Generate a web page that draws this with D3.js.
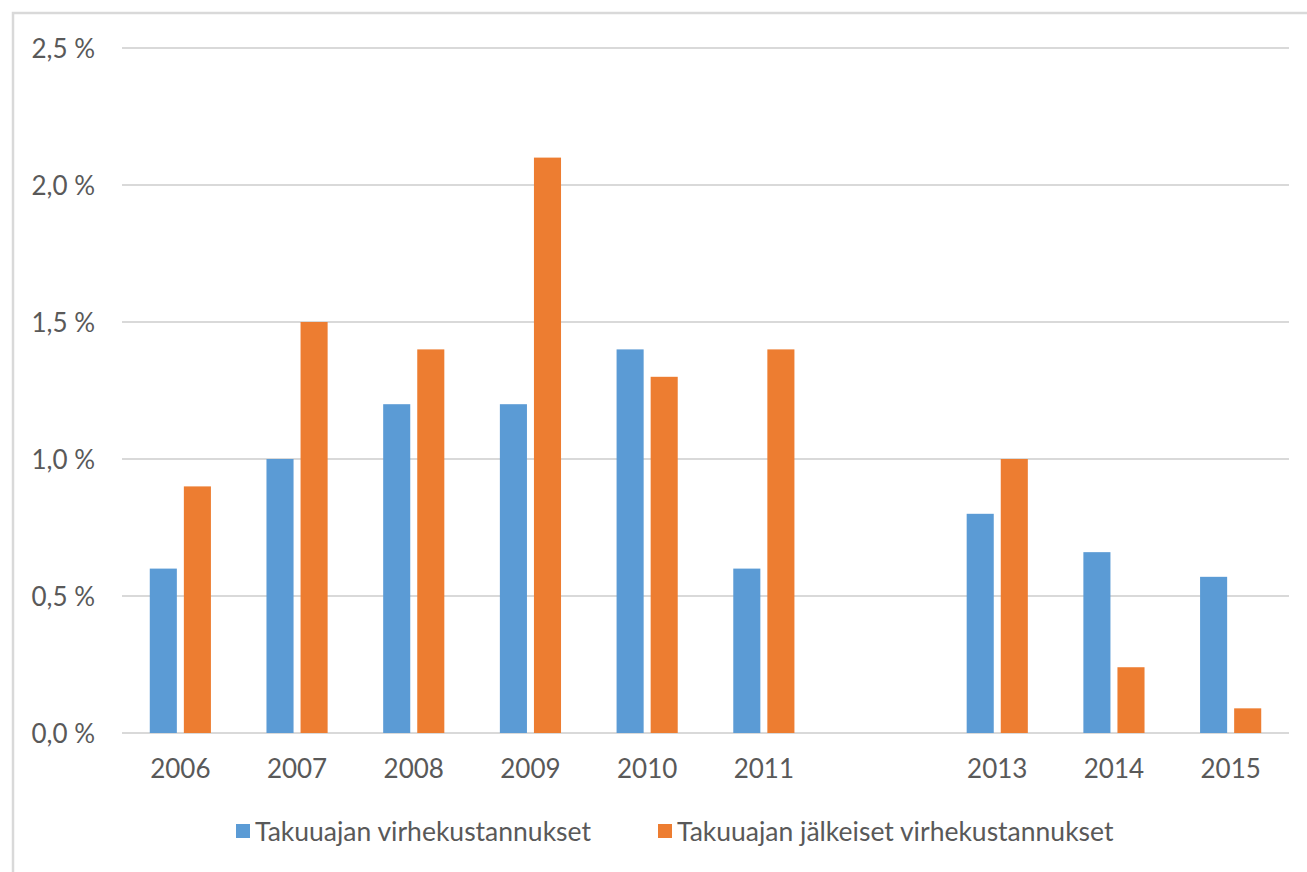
<!DOCTYPE html>
<html>
<head>
<meta charset="utf-8">
<script src="https://cdn.jsdelivr.net/npm/d3@7"></script>
<style>
  html, body { margin: 0; padding: 0; background: #fff; }
  svg { display: block; }
  text { font-family: Lato, "Open Sans", "Liberation Sans", sans-serif; fill: #595959; }
</style>
</head>
<body>
<svg id="chart" width="1307" height="872"></svg>
<script>
// ---- data ----
const categories = ["2006", "2007", "2008", "2009", "2010", "2011", "", "2013", "2014", "2015"];
const seriesNames = ["Takuuajan virhekustannukset", "Takuuajan jälkeiset virhekustannukset"];
const warrantyCosts = [0.6, 1.0, 1.2, 1.2, 1.4, 0.6, null, 0.8, 0.66, 0.57];
const postWarrantyCosts = [0.9, 1.5, 1.4, 2.1, 1.3, 1.4, null, 1.0, 0.24, 0.09];
const yTicks = [0, 0.5, 1.0, 1.5, 2.0, 2.5];
const colors = ["#5B9BD5", "#ED7D31"];

// ---- layout ----
const W = 1307, H = 872;
const plot = { left: 122, right: 1289, top: 48, bottom: 733 };
const svg = d3.select("#chart");

// chart frame (extends past the visible area on right/bottom)
svg.append("rect")
  .attr("x", 13).attr("y", 13)
  .attr("width", W).attr("height", H)
  .attr("fill", "none").attr("stroke", "#D9D9D9").attr("stroke-width", 2.5);

const x = d3.scaleBand().domain(d3.range(categories.length))
  .range([plot.left, plot.right]).padding(0);
const y = d3.scaleLinear().domain([0, 2.5]).range([plot.bottom, plot.top]);

const fmt = v => d3.format(".1f")(v).replace(".", ",") + " %";

// gridlines
svg.append("g").selectAll("line").data(yTicks).join("line")
  .attr("x1", plot.left).attr("x2", plot.right)
  .attr("y1", d => y(d)).attr("y2", d => y(d))
  .attr("stroke", "#D9D9D9").attr("stroke-width", 2);

// y labels
svg.append("g").selectAll("text").data(yTicks).join("text")
  .attr("x", 95).attr("y", d => y(d))
  .attr("text-anchor", "end").attr("dominant-baseline", "central")
  .style("font-size", "26px")
  .text(fmt);

// x labels
svg.append("g").selectAll("text").data(categories).join("text")
  .attr("x", (d, i) => x(i) + x.bandwidth() / 2)
  .attr("y", 778)
  .attr("text-anchor", "middle")
  .style("font-size", "26px")
  .text(d => d);

// bars
const bw = x.bandwidth();
const barW = bw * 0.232;
const gap = bw * 0.06;
const offsets = [-gap / 2 - barW, gap / 2];
const series = [warrantyCosts, postWarrantyCosts];
series.forEach((vals, s) => {
  svg.append("g").selectAll("rect")
    .data(vals.map((v, i) => ({ v, i })).filter(d => d.v != null))
    .join("rect")
    .attr("x", d => x(d.i) + bw / 2 + offsets[s])
    .attr("width", barW)
    .attr("y", d => y(d.v))
    .attr("height", d => y(0) - y(d.v))
    .attr("fill", colors[s]);
});

// legend
const legendItems = [
  { name: seriesNames[0], color: colors[0], x: 236 },
  { name: seriesNames[1], color: colors[1], x: 658 }
];
const lg = svg.append("g").selectAll("g").data(legendItems).join("g")
  .attr("transform", d => `translate(${d.x},0)`);
lg.append("rect").attr("x", 0).attr("y", 824).attr("width", 14).attr("height", 14)
  .attr("fill", d => d.color);
lg.append("text").attr("x", 19).attr("y", 841)
  .style("font-size", "26.5px")
  .text(d => d.name);
</script>
</body>
</html>
